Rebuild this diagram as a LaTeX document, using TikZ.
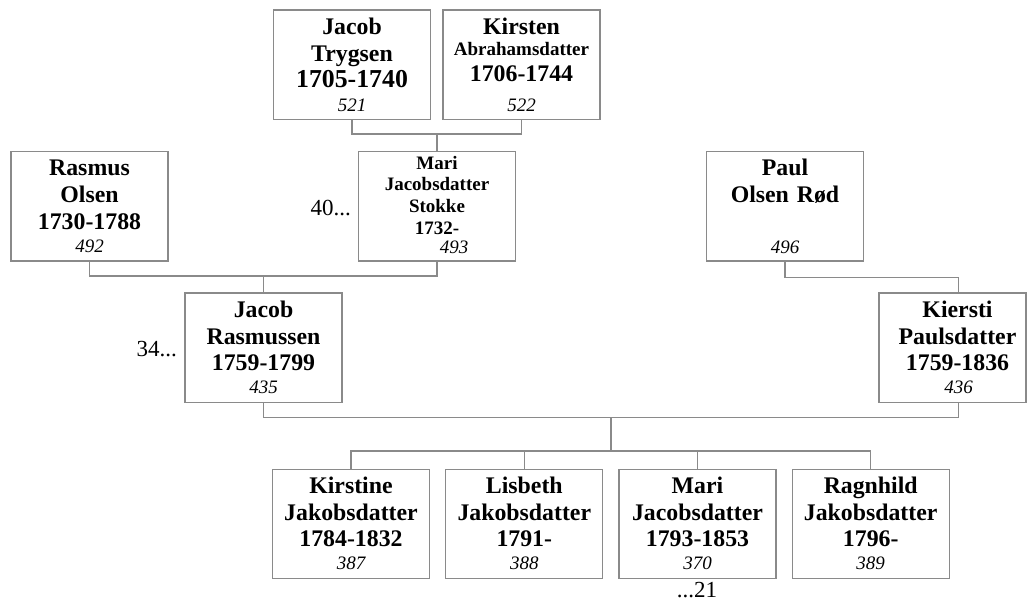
\documentclass[tikz,border=0pt]{standalone}
\usepackage{fontspec}
\setmainfont{Liberation Serif}
\definecolor{linegray}{RGB}{138,138,138}
\tikzset{
  person/.style={draw=linegray, line width=1.2pt, inner sep=0pt, text width=157pt,
    align=center, text height=24.4pt, text depth=85.1pt, anchor=north,
    font=\fontsize{23.8}{26.7}\selectfont\bfseries},
  smallperson/.style={font=\fontsize{19}{21.7}\selectfont\bfseries, text height=17.6pt, text depth=91.9pt},
  num/.style={anchor=base, inner sep=0pt, font=\fontsize{19}{21}\selectfont\itshape},
  lbl/.style={anchor=base east, inner sep=0pt, font=\fontsize{23}{26}\selectfont},
  conn/.style={draw=linegray, line width=1.2pt},
}
\begin{document}
\begin{tikzpicture}[x=1pt,y=-1pt]
\useasboundingbox (0,0) rectangle (1027,601);
% row 0
\node[person] (jt) at (352,9.5) {Jacob\\Trygsen\\{\fontsize{25.8}{26.7}\selectfont 1705-1740}};
\node[person] (ka) at (521.5,9.5) {Kirsten\\[-6pt]{\fontsize{19}{21.7}\selectfont Abrahamsdatter}\\1706-1744};
% row 1
\node[person] (ro) at (89.5,151) {Rasmus\\Olsen\\1730-1788};
\node[person,smallperson] (ma) at (437,151) {Mari\\Jacobsdatter\\Stokke\\1732-};
\node[person] (po) at (785,151) {Paul\\Olsen Rød};
% row 2
\node[person] (jr) at (263.5,292.5) {Jacob\\Rasmussen\\1759-1799};
\node[person, text width=147pt, align=left] (ki) at (952.5,292.5) {\makebox[157pt]{Kiersti}\\\makebox[157pt]{Paulsdatter}\\\makebox[157pt]{1759-1836}};
% row 3
\node[person] (k1) at (351,468.5) {Kirstine\\Jakobsdatter\\1784-1832};
\node[person] (k2) at (524.3,468.5) {Lisbeth\\Jakobsdatter\\1791-};
\node[person] (k3) at (697.5,468.5) {Mari\\Jacobsdatter\\1793-1853};
\node[person] (k4) at (870.7,468.5) {Ragnhild\\Jakobsdatter\\1796-};
% numbers
\node[num] (jtN) at ([yshift=9pt]jt.south) {521};
\node[num] (kaN) at ([yshift=9pt]ka.south) {522};
\node[num] (roN) at ([yshift=9pt]ro.south) {492};
\node[num] (maN) at ([xshift=17pt,yshift=8.5pt]ma.south) {493};
\node[num] (poN) at ([yshift=8.5pt]po.south) {496};
\node[num] (jrN) at ([yshift=9.3pt]jr.south) {435};
\node[num] (kiN) at ([xshift=6pt,yshift=9.3pt]ki.south) {436};
\node[num] (k1N) at ([yshift=9.5pt]k1.south) {387};
\node[num] (k2N) at ([yshift=9.5pt]k2.south) {388};
\node[num] (k3N) at ([yshift=9.5pt]k3.south) {370};
\node[num] (k4N) at ([yshift=9.5pt]k4.south) {389};
% side labels
\node[lbl] (l40) at (351,216) {40...};
\node[lbl] (l34) at (177,356.5) {34...};
\node[anchor=base, inner sep=0pt, font=\fontsize{23}{26}\selectfont] (l21) at (697,597.5) {...21};
% connectors
\coordinate (j1) at (437,134);
\draw[conn] (jt.south) |- (j1) -| (ka.south);
\draw[conn] (j1) -- (ma.north);
\coordinate (j2) at (263.5,276);
\draw[conn] (ro.south) |- (j2) -| (ma.south);
\draw[conn] (j2) -- (jr.north);
\draw[conn] (po.south) -- ++(0,15.5) -| ([xshift=6pt]ki.north);
\coordinate (j3) at (611,417.3);
\draw[conn] (jr.south) |- (j3) -| ([xshift=6pt]ki.south);
\coordinate (j4) at (611,451);
\draw[conn] (j3) -- (j4);
\draw[conn] (k1.north) |- (j4) -| (k4.north);
\draw[conn] (k2.north) -- (k2.north |- j4);
\draw[conn] (k3.north) -- (k3.north |- j4);
\end{tikzpicture}
\end{document}
